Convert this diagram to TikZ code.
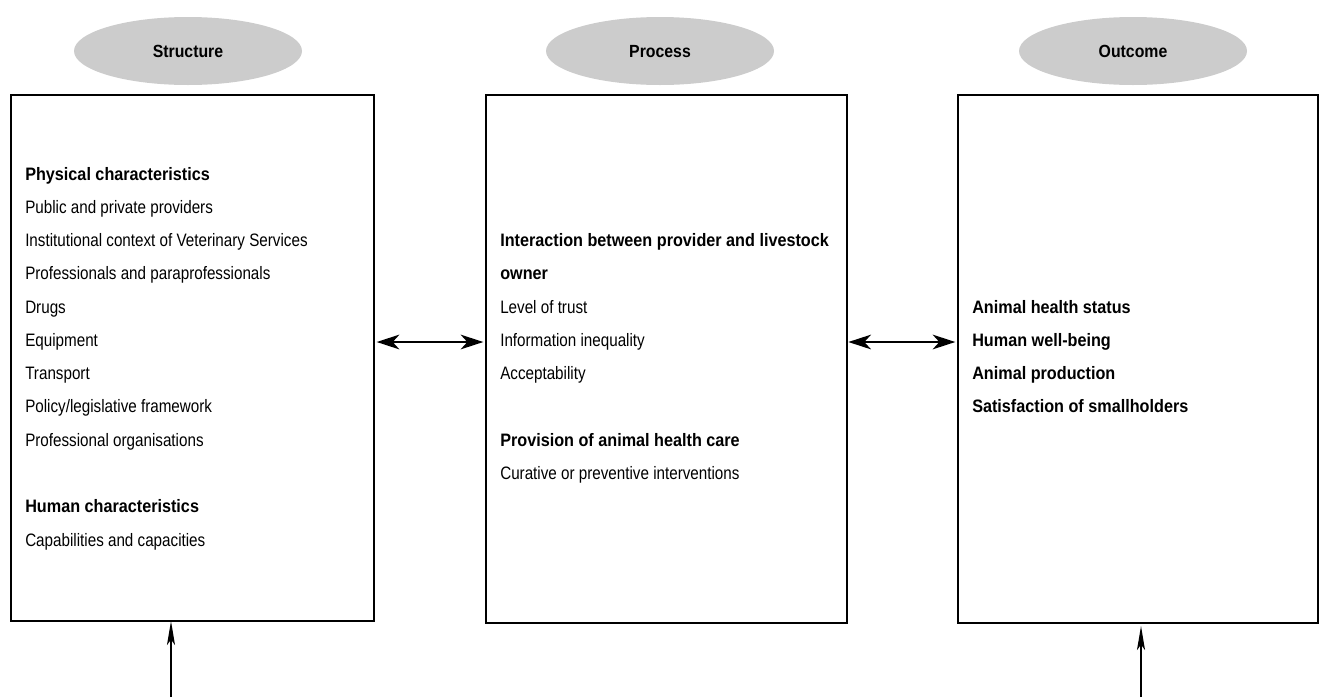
\documentclass[tikz,border=0pt]{standalone}
\usepackage{fontspec}
\setmainfont{Liberation Sans}[FakeStretch=0.845,BoldFeatures={FakeStretch=0.90}]
\usetikzlibrary{shapes.geometric,arrows.meta}
\begin{document}
\begin{tikzpicture}[x=0.75pt,y=-0.75pt,
  oval/.style={ellipse,fill=black!20,minimum width=171pt,minimum height=51pt,font=\fontsize{13.2}{15}\selectfont\bfseries,inner sep=0pt,text height=9.4pt,text depth=0pt},
  panel/.style={draw=black,line width=0.9pt},
  txt/.style={anchor=base west,inner sep=0pt,font=\fontsize{13.5}{15}\selectfont},
  btxt/.style={txt,font=\fontsize{13.5}{15}\selectfont\bfseries},
  link/.style={line width=1.5pt,{Stealth[length=17pt,width=11pt,inset=5pt]}-{Stealth[length=17pt,width=11pt,inset=5pt]}},
  feed/.style={line width=1.4pt,-{Stealth[length=18pt,width=6pt,inset=4pt]}}]
\useasboundingbox (0,0) rectangle (1320,697);
\node[oval] (o1) at (188,51) {Structure};
\node[oval] (o2) at (660,51) {Process};
\node[oval] (o3) at (1133,51) {Outcome};
\draw[panel] (11,95) rectangle (374,621);
\draw[panel] (486,95) rectangle (847,623);
\draw[panel] (958,95) rectangle (1318,623);
\coordinate (b1r) at (374,342);
\coordinate (b2l) at (486,342);
\coordinate (b2r) at (847,342);
\coordinate (b3l) at (958,342);
\coordinate (b1b) at (171,621);
\coordinate (b3b) at (1141,626);
\coordinate (s1) at (171,697);
\coordinate (s3) at (1141,697);
% left
\node[btxt] (l1) at (25,180) {Physical characteristics};
\node[txt] (l2) at (25,213) {Public and private providers};
\node[txt] (l3) at (25,246) {Institutional context of Veterinary Services};
\node[txt] (l4) at (25,279) {Professionals and paraprofessionals};
\node[txt] (l5) at (25,313) {Drugs};
\node[txt] (l6) at (25,346) {Equipment};
\node[txt] (l7) at (25,379) {Transport};
\node[txt] (l8) at (25,412) {Policy/legislative framework};
\node[txt] (l9) at (25,446) {Professional organisations};
\node[btxt] (l10) at (25,512) {Human characteristics};
\node[txt] (l11) at (25,546) {Capabilities and capacities};
% middle
\node[btxt] (m1) at (500,246) {Interaction between provider and livestock};
\node[btxt] (m2) at (500,279) {owner};
\node[txt] (m3) at (500,313) {Level of trust};
\node[txt] (m4) at (500,346) {Information inequality};
\node[txt] (m5) at (500,379) {Acceptability};
\node[btxt] (m6) at (500,446) {Provision of animal health care};
\node[txt] (m7) at (500,479) {Curative or preventive interventions};
% right
\node[btxt] (r1) at (972,313) {Animal health status};
\node[btxt] (r2) at (972,346) {Human well-being};
\node[btxt] (r3) at (972,379) {Animal production};
\node[btxt] (r4) at (972,412) {Satisfaction of smallholders};
% arrows
\draw[link] ([xshift=2pt]b1r) -- ([xshift=-2pt]b2l);
\draw[link] ([xshift=1pt]b2r) -- ([xshift=-2pt]b3l);
\draw[feed] (s1) -- (b1b);
\draw[feed] (s3) -- (b3b);
\end{tikzpicture}
\end{document}
